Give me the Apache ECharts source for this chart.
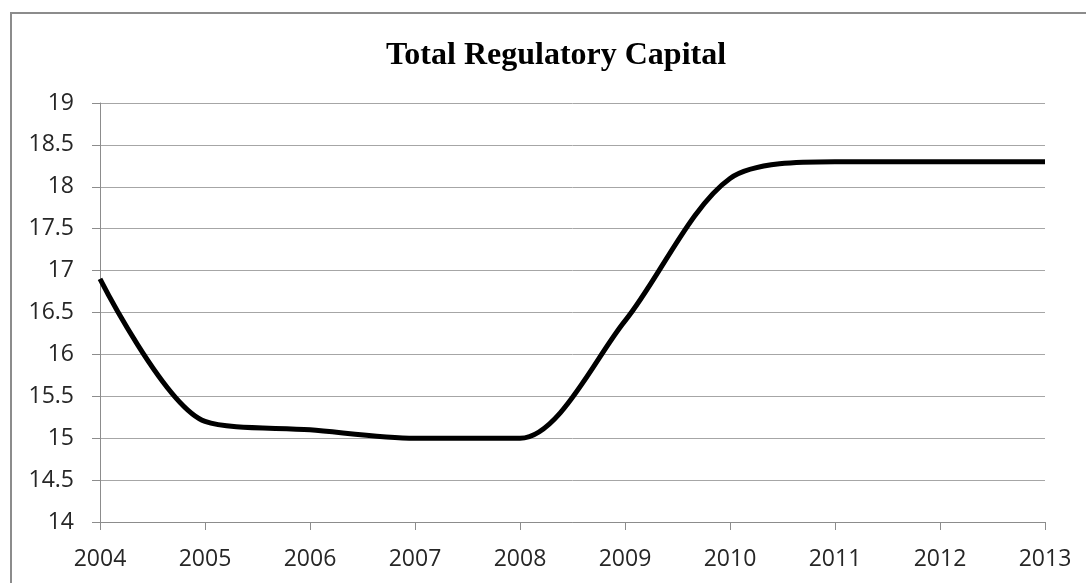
<!DOCTYPE html>
<html>
<head>
<meta charset="utf-8">
<script src="https://cdn.jsdelivr.net/npm/echarts@6/dist/echarts.min.js"></script>
<style>
  html, body { margin: 0; padding: 0; background: #fff; }
  #chart { width: 1086px; height: 583px; }
</style>
</head>
<body>
<div id="chart"></div>
<script>
// Total regulatory capital by year
const years = ['2004', '2005', '2006', '2007', '2008', '2009', '2010', '2011', '2012', '2013'];
const capital = [16.9, 15.2, 15.1, 15.0, 15.0, 16.4, 18.1, 18.3, 18.3, 18.3];

const chart = echarts.init(document.getElementById('chart'));
chart.setOption({
  animation: false,
  backgroundColor: '#fff',
  title: {
    text: 'Total Regulatory Capital',
    left: 551,
    textAlign: 'center',
    top: 35,
    textStyle: {
      fontFamily: 'Liberation Serif',
      fontWeight: 'bold',
      fontSize: 32,
      color: '#000'
    }
  },
  graphic: [{
    type: 'rect',
    shape: { x: 11, y: 13, width: 1200, height: 700 },
    style: { fill: 'none', stroke: '#8c8c8c', lineWidth: 2 },
    silent: true
  }],
  grid: { left: 100, right: 41, top: 103, bottom: 61 },
  xAxis: {
    type: 'category',
    data: years,
    boundaryGap: false,
    axisLine: { lineStyle: { color: '#8c8c8c', width: 1 } },
    axisTick: { show: true, length: 8, lineStyle: { color: '#8c8c8c' } },
    axisLabel: {
      fontFamily: 'Open Sans',
      fontSize: 23,
      color: '#262626',
      margin: 26
    },
    splitLine: { show: false }
  },
  yAxis: {
    type: 'value',
    min: 14,
    max: 19,
    interval: 0.5,
    axisLine: { show: true, lineStyle: { color: '#8c8c8c', width: 1 } },
    axisTick: { show: true, length: 8, lineStyle: { color: '#8c8c8c' } },
    axisLabel: {
      fontFamily: 'Open Sans',
      fontSize: 23,
      color: '#262626',
      margin: 26
    },
    splitLine: { lineStyle: { color: '#a6a6a6', width: 1 } }
  },
  series: [{
    type: 'line',
    data: capital,
    smooth: 0.3,
    symbol: 'none',
    lineStyle: { color: '#000', width: 5 }
  }]
});
</script>
</body>
</html>
